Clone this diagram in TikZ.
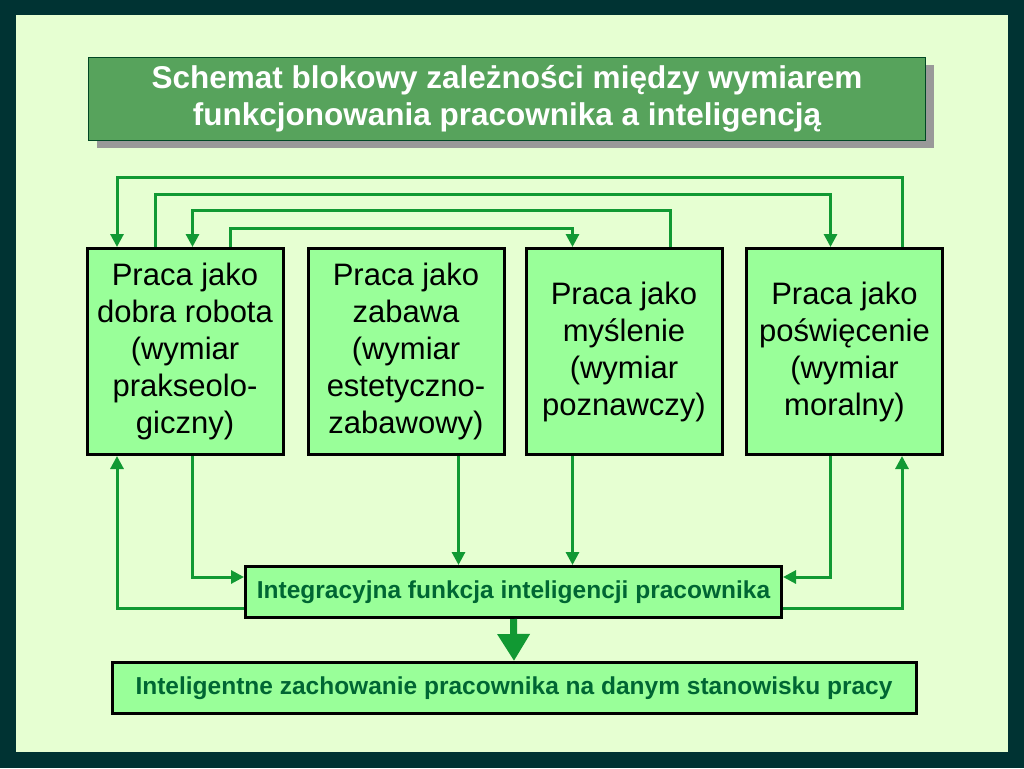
\documentclass[tikz,border=0pt]{standalone}
\usepackage{fontspec}
\setmainfont{Liberation Sans}
\usepackage{tikz}
\usetikzlibrary{arrows.meta, shadows, calc}

\definecolor{ramka}{HTML}{003333}
\definecolor{tlo}{HTML}{E6FFD2}
\definecolor{tytul}{HTML}{57A35C}
\definecolor{blok}{HTML}{99FF99}
\definecolor{linia}{HTML}{119933}
\definecolor{napis}{HTML}{006633}

\tikzset{
  praca/.style={draw=black, line width=3pt, fill=blok, align=center,
    minimum width=196pt, minimum height=206pt, inner sep=0pt,
    font=\fontsize{31}{37}\selectfont},
  funkcja/.style={draw=black, line width=3pt, fill=blok, inner sep=0pt,
    text=napis, font=\fontsize{24.5}{30}\selectfont\bfseries},
  polacz/.style={draw=linia, line width=3pt,
    -{Triangle[length=13pt, width=13pt]}},
}

\begin{document}
\begin{tikzpicture}[x=1pt, y=-1pt]
  % tlo i ramka
  \fill[ramka] (0,0) rectangle (1024,768);
  \fill[tlo] (16,15) rectangle (1008,752);
  \useasboundingbox (0,0) rectangle (1024,768);

  % tytul
  \node[draw=napis!70!black, fill=tytul, text=white, align=center,
    minimum width=837pt, minimum height=83pt, inner sep=0pt,
    font=\fontsize{31.5}{37}\selectfont\bfseries,
    general shadow={fill=black!40, shadow xshift=8pt, shadow yshift=-8pt}]
    (tytul) at (507,98.5)
    {Schemat blokowy zależności między wymiarem\\funkcjonowania pracownika a inteligencją};

  % wymiary pracy
  \node[praca] (praca1) at (185,351.5) {Praca jako\\dobra robota\\(wymiar\\prakseolo-\\giczny)};
  \node[praca] (praca2) at (406,351.5) {Praca jako\\zabawa\\(wymiar\\estetyczno-\\zabawowy)};
  \node[praca] (praca3) at (624,351.5) {Praca jako\\myślenie\\(wymiar\\poznawczy)};
  \node[praca] (praca4) at (844.5,351.5) {Praca jako\\poświęcenie\\(wymiar\\moralny)};

  % funkcja integracyjna i zachowanie
  \node[funkcja, minimum width=536pt, minimum height=51pt] (integr) at (513.5,592)
    {Integracyjna funkcja inteligencji pracownika};
  \node[funkcja, minimum width=804pt, minimum height=51pt] (zachow) at (514,688)
    {Inteligentne zachowanie pracownika na danym stanowisku pracy};

  % sprzezenia u gory
  \draw[polacz] ([xshift=57.5pt]praca4.north) -- ++(0,-69.5) -| ([xshift=-68pt]praca1.north);
  \draw[polacz] ([xshift=-30pt]praca1.north) -- ++(0,-52.5) -| ([xshift=-14pt]praca4.north);
  \draw[polacz] ([xshift=46pt]praca3.north) -- ++(0,-36.5) -| ([xshift=7.5pt]praca1.north);
  \draw[polacz] ([xshift=45pt]praca1.north) -- ++(0,-18.5) -| ([xshift=-51.5pt]praca3.north);

  % polaczenia na dole
  \draw[polacz] ([yshift=-16pt]integr.west) -| ([xshift=-68pt]praca1.south);
  \draw[polacz] ([xshift=7.5pt]praca1.south) |- ([yshift=15pt]integr.west);
  \draw[polacz] ([xshift=52.5pt]praca2.south) -- ([xshift=52.5pt]praca2.south |- integr.north);
  \draw[polacz] ([xshift=-51.5pt]praca3.south) -- ([xshift=-51.5pt]praca3.south |- integr.north);
  \draw[polacz] ([xshift=-14pt]praca4.south) |- ([yshift=15pt]integr.east);
  \draw[polacz] ([yshift=-16pt]integr.east) -| ([xshift=57.5pt]praca4.south);

  % wynik
  \draw[draw=linia, line width=7pt, -{Triangle[length=27pt, width=31pt]}]
    (integr.south) -- (zachow.north);
\end{tikzpicture}
\end{document}
